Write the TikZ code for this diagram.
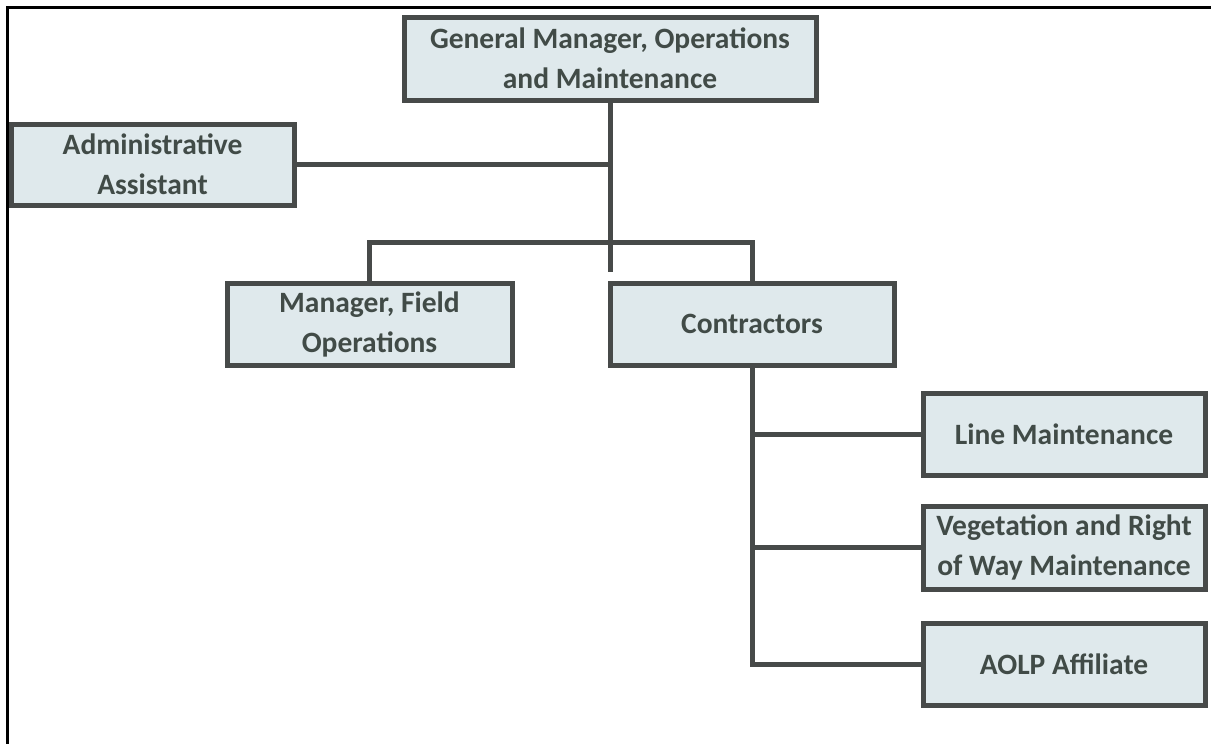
\documentclass[tikz,border=0pt]{standalone}
\usepackage{fontspec}
\setmainfont{Carlito}
\definecolor{boxfill}{HTML}{DFE9EC}
\definecolor{boxline}{HTML}{474A49}
\definecolor{txt}{HTML}{414B47}
\tikzset{
  orgbox/.style={draw=boxline, fill=boxfill, line width=5pt, inner sep=0pt,
    align=center, text=txt, font=\bfseries\fontsize{29.5}{40}\selectfont},
  link/.style={draw=boxline, line width=5pt}
}
\begin{document}
\begin{tikzpicture}[x=1pt,y=-1pt]
\useasboundingbox (0,0) rectangle (1211,744);
\fill[white] (0,0) rectangle (1211,744);
\draw[black, line width=3pt] (7,744) -- (7,7) -- (1211,7);
\node[orgbox, minimum width=412pt, minimum height=83pt] (gm) at (610,58.5) {General Manager, Operations\\and Maintenance};
\node[orgbox, minimum width=283pt, minimum height=81pt] (adm) at (152.5,164.5) {Administrative\\Assistant};
\node[orgbox, minimum width=285pt, minimum height=82pt] (mgr) at (369.5,324) {Manager, Field\\Operations};
\node[orgbox, minimum width=284pt, minimum height=82pt] (con) at (752,324) {Contractors};
\node[orgbox, minimum width=282pt, minimum height=82pt] (lm) at (1064,434) {Line Maintenance};
\node[orgbox, minimum width=282pt, minimum height=83pt] (veg) at (1064,547.5) {Vegetation and Right\\of Way Maintenance};
\node[orgbox, minimum width=282pt, minimum height=82pt] (aolp) at (1064,664) {AOLP Affiliate};
\coordinate (stub) at (610,272);
\coordinate (bar) at (610,242);
\draw[link] (gm.south) -- (stub);
\draw[link] (adm.east) -- (adm.east -| gm.south);
\draw[link] (mgr.north) |- (bar) -| (con.north);
\draw[link] (con.south) |- (aolp.west);
\draw[link] (con.south |- lm.west) -- (lm.west);
\draw[link] (con.south |- veg.west) -- (veg.west);
\end{tikzpicture}
\end{document}
